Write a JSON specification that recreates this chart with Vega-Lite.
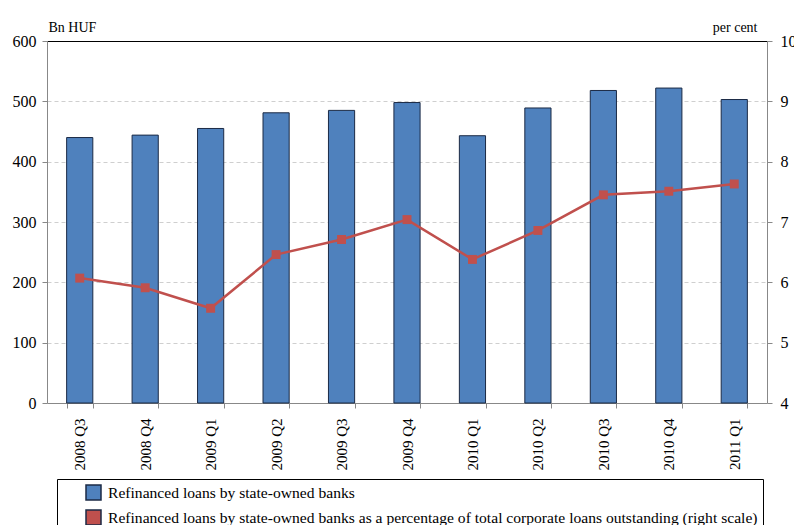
{
  "$schema": "https://vega.github.io/schema/vega-lite/v6.json",
  "width": 720,
  "height": 362,
  "autosize": {"type": "none"},
  "padding": {"left": 47, "top": 41, "right": 27, "bottom": 122},
  "background": "white",
  "config": {
    "font": "Liberation Serif",
    "view": {"stroke": null},
    "axis": {"labelColor": "black", "titleColor": "black"}
  },
  "data": {
    "values": [
      {"q": "2008 Q3", "loans": 440, "pct": 6.07},
      {"q": "2008 Q4", "loans": 444, "pct": 5.91},
      {"q": "2009 Q1", "loans": 455, "pct": 5.57},
      {"q": "2009 Q2", "loans": 481, "pct": 6.46},
      {"q": "2009 Q3", "loans": 485, "pct": 6.71},
      {"q": "2009 Q4", "loans": 498, "pct": 7.04},
      {"q": "2010 Q1", "loans": 443, "pct": 6.38},
      {"q": "2010 Q2", "loans": 489, "pct": 6.86},
      {"q": "2010 Q3", "loans": 518, "pct": 7.45},
      {"q": "2010 Q4", "loans": 522, "pct": 7.51},
      {"q": "2011 Q1", "loans": 503, "pct": 7.63}
    ]
  },
  "encoding": {
    "x": {
      "field": "q", "type": "nominal", "sort": null,
      "scale": {"paddingInner": 0.6, "paddingOuter": 0.3},
      "axis": {
        "title": null, "labelAngle": -90, "labelFont": "Liberation Serif", "labelFontSize": 15, "labelPadding": 10,
        "domainColor": "#888888", "tickColor": "#888888", "tickSize": 5, "tickBand": "extent", "grid": false
      }
    }
  },
  "layer": [
    {
      "mark": {"type": "bar", "color": "#4F81BD", "stroke": "#1B2A45", "strokeWidth": 1},
      "encoding": {
        "y": {
          "field": "loans", "type": "quantitative",
          "scale": {"domain": [0, 600], "nice": false},
          "axis": {
            "values": [0, 100, 200, 300, 400, 500, 600],
            "title": "Bn HUF", "titleAngle": 0, "titleAlign": "left", "titleBaseline": "middle",
            "titleX": 1, "titleY": -14, "titleFontSize": 14, "titleFontWeight": "normal",
            "labelFont": "Liberation Serif", "labelFontSize": 16, "labelPadding": 6, "tickSize": 5,
            "domainColor": "#888888", "tickColor": "#888888",
            "grid": true,
            "gridColor": {"condition": {"test": "datum.value === 600", "value": "#000000"}, "value": "#cfcfcf"},
            "gridDash": {"condition": {"test": "datum.value === 600", "value": []}, "value": [4, 3]},
            "gridWidth": {"condition": {"test": "datum.value === 0", "value": 0}, "value": 1.2}
          }
        },
        "fill": {
          "datum": "Refinanced loans by state-owned banks",
          "type": "nominal",
          "scale": {
            "domain": ["Refinanced loans by state-owned banks", "Refinanced loans by state-owned banks as a percentage of total corporate loans outstanding (right scale)"],
            "range": ["#4F81BD", "#C0504D"]
          },
          "legend": {
            "title": null, "orient": "none", "legendX": 10, "legendY": 438,
            "direction": "vertical", "labelFont": "Liberation Serif", "labelFontSize": 15.6, "labelLimit": 800, "labelColor": "black",
            "symbolSize": 225, "rowPadding": 4, "labelOffset": 6, "symbolOffset": 23,
            "strokeColor": "black", "padding": 5,
            "values": ["Refinanced loans by state-owned banks", "Refinanced loans by state-owned banks as a percentage of total corporate loans outstanding (right scale)"],
            "encode": {
              "symbols": {
                "update": {
                  "shape": {"signal": "datum.index === 0 ? 'M-1.4,-0.65H1.4V0.65H-1.4Z' : 'M-1.4,0H1.4M-0.5,-0.5H0.5V0.5H-0.5Z'"},
                  "stroke": {"signal": "datum.index === 0 ? '#1B2A45' : '#C0504D'"},
                  "strokeWidth": {"value": 2},
                  "size": {"value": 225}
                }
              }
            }
          }
        }
      }
    },
    {
      "mark": {"type": "line", "color": "#C0504D", "strokeWidth": 2.5, "point": {"shape": "square", "filled": true, "size": 80, "color": "#C0504D"}},
      "encoding": {
        "y": {
          "field": "pct", "type": "quantitative",
          "scale": {"domain": [4, 10], "nice": false},
          "axis": {
            "orient": "right", "values": [4, 5, 6, 7, 8, 9, 10],
            "title": "per cent", "titleAngle": 0, "titleAlign": "right", "titleBaseline": "middle",
            "titleX": -10, "titleY": -14, "titleFontSize": 14, "titleFontWeight": "normal",
            "labelFont": "Liberation Serif", "labelFontSize": 16, "labelPadding": 8, "tickSize": 5,
            "domainColor": "#888888", "tickColor": "#888888", "grid": false
          }
        }
      }
    }
  ],
  "resolve": {"scale": {"y": "independent"}}
}
